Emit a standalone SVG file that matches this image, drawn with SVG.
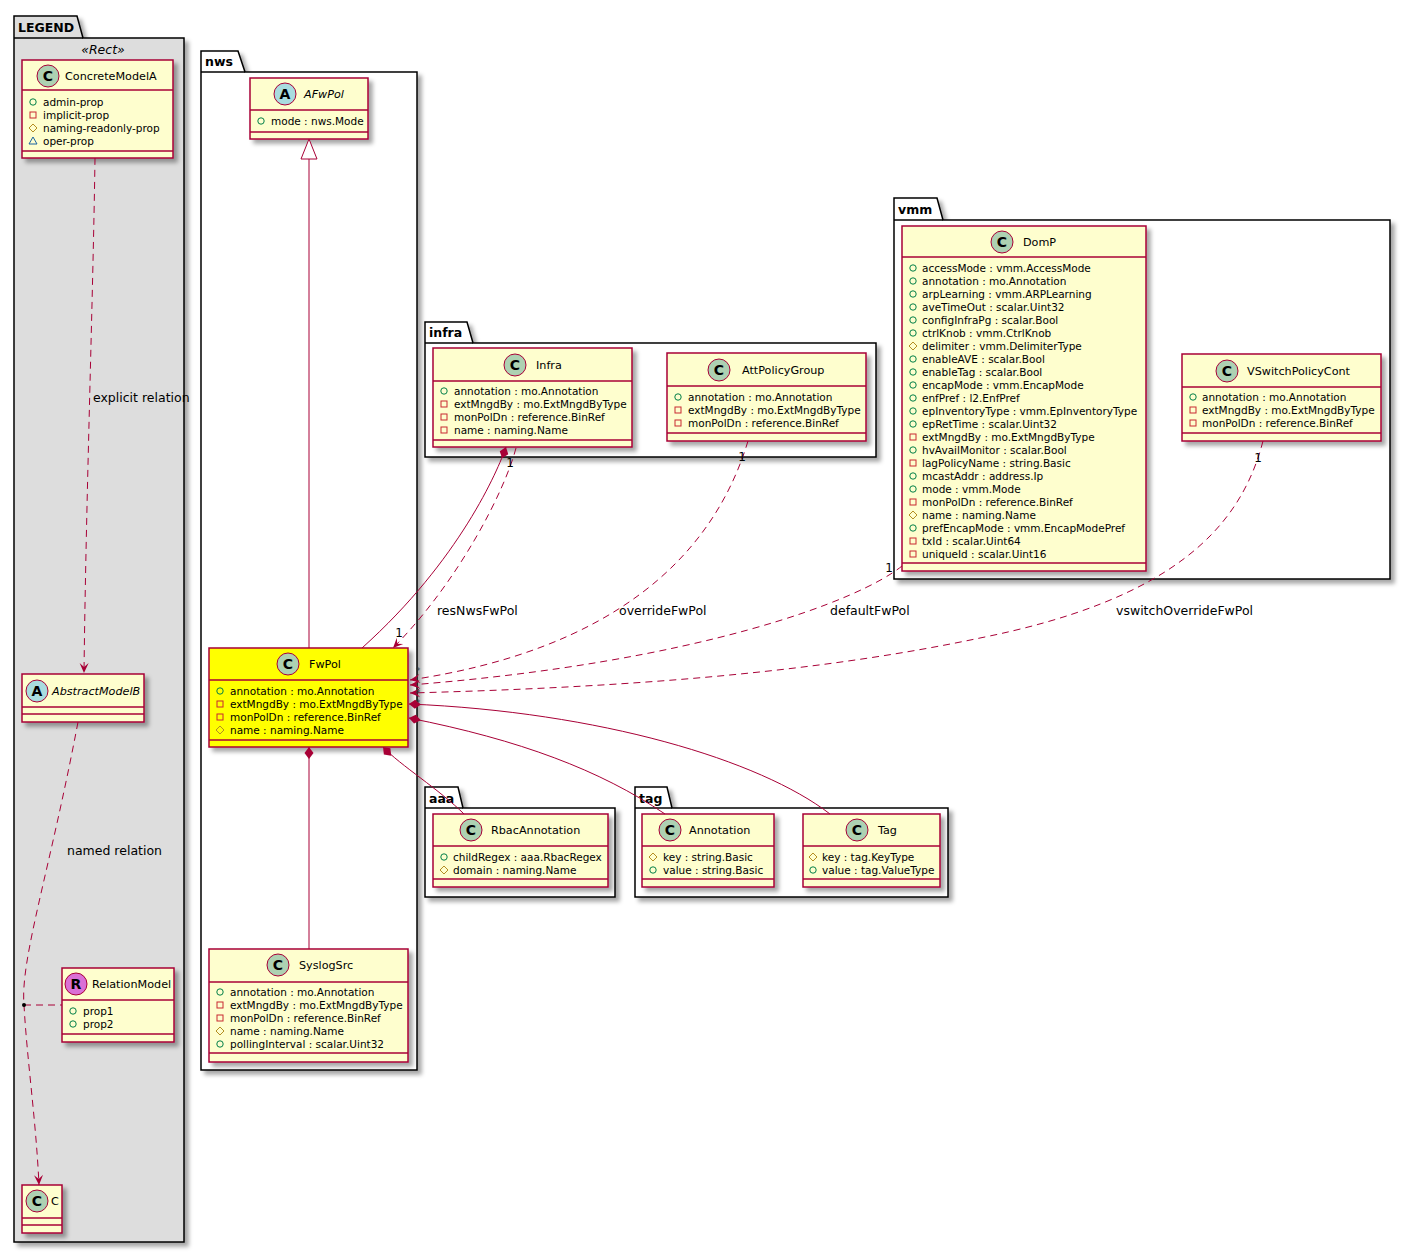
<svg xmlns="http://www.w3.org/2000/svg" width="1410" height="1252" viewBox="0 0 1410 1252">
<style>
.bg{fill:#FFFFFF}
.pkg{fill:#FFFFFF;stroke:#000;stroke-width:1.5}
.pkg.lg{fill:#DDDDDD}
.pl{stroke:#000;stroke-width:1.5}
.pt{font-family:"DejaVu Sans",sans-serif;font-weight:bold;font-size:12.5px;fill:#000}
.st{font-family:"DejaVu Sans",sans-serif;font-style:italic;font-size:12.5px;fill:#000;text-anchor:middle}
.box{fill:#FEFECE;stroke:#A80036;stroke-width:1.5}
.box.hl{fill:#FFFF00}
.dv{stroke:#A80036;stroke-width:1.5}
.nm{font-family:"DejaVu Sans",sans-serif;font-size:11.2px;fill:#000}
.nm.it{font-style:italic}
.at{font-family:"DejaVu Sans",sans-serif;font-size:10.5px;fill:#000}
.ic{font-family:"DejaVu Sans",sans-serif;font-weight:bold;font-size:14px;fill:#000;text-anchor:middle}
.pub{fill:none;stroke:#038048;stroke-width:1}
.priv{fill:none;stroke:#C82930;stroke-width:1}
.prot{fill:none;stroke:#B38D22;stroke-width:1}
.pkv{fill:none;stroke:#1963A0;stroke-width:1}
.ln{fill:none;stroke:#A80036;stroke-width:1}
.ln.d{stroke-dasharray:7,5}
.lb{font-family:"DejaVu Sans",sans-serif;font-size:12.5px;fill:#000}
.ml{font-family:"DejaVu Sans",sans-serif;font-size:12px;fill:#000;text-anchor:middle}
.sm{font-family:"DejaVu Sans",sans-serif;font-size:9px;fill:#333;text-anchor:middle}
</style>
<defs>
<filter id="sh" x="-20%" y="-20%" width="150%" height="150%">
<feDropShadow dx="4" dy="4" stdDeviation="2" flood-color="#000" flood-opacity="0.35"/>
</filter>
<marker id="arr" markerWidth="12" markerHeight="10" refX="10" refY="4.5" orient="auto" markerUnits="userSpaceOnUse" overflow="visible">
<path d="M0,0 L10,4.5 L0,9 L4,4.5 Z" fill="#A80036" stroke="none"/>
</marker>
<marker id="dia" markerWidth="14" markerHeight="10" refX="0" refY="4.5" orient="auto" markerUnits="userSpaceOnUse" overflow="visible">
<path d="M0,4.5 L6,0 L12,4.5 L6,9 Z" fill="#A80036" stroke="none"/>
</marker>
<g id="icC"><circle r="11" fill="#ADD1B2" stroke="#A80036" stroke-width="1"/><text y="5" class="ic">C</text></g>
<g id="icA"><circle r="11" fill="#A9DCDF" stroke="#A80036" stroke-width="1"/><text y="5" class="ic">A</text></g>
<g id="icR"><circle r="11" fill="#DA70D6" stroke="#A80036" stroke-width="1"/><text y="5" class="ic">R</text></g>
<circle id="vpub" r="3.2" class="pub"/>
<rect id="vpriv" x="-3" y="-3" width="6" height="6" class="priv"/>
<path id="vprot" d="M0,-4 L4,0 L0,4 L-4,0 Z" class="prot"/>
<path id="vpkg" d="M-4,3 L0,-4 L4,3 Z" class="pkv"/>
</defs>
<rect class="bg" x="0" y="0" width="1410" height="1252"/>

<!-- packages -->
<g id="pkg-LEGEND">
<path class="pkg lg" filter="url(#sh)" d="M14,38 L14,16 L77,16 L83,38 L184,38 L184,1242 L14,1242 Z"/>
<line class="pl" x1="14" y1="38" x2="83" y2="38"/>
<text class="pt" x="18" y="32">LEGEND</text>
<text class="st" x="103" y="54">«Rect»</text>
</g>
<g id="pkg-nws">
<path class="pkg" filter="url(#sh)" d="M201,72 L201,51 L238,51 L245,72 L417,72 L417,1070 L201,1070 Z"/>
<line class="pl" x1="201" y1="72" x2="245" y2="72"/>
<text class="pt" x="205" y="66">nws</text>
</g>
<g id="pkg-infra">
<path class="pkg" filter="url(#sh)" d="M425,343 L425,322 L467,322 L473,343 L876,343 L876,457 L425,457 Z"/>
<line class="pl" x1="425" y1="343" x2="473" y2="343"/>
<text class="pt" x="429" y="337">infra</text>
</g>
<g id="pkg-vmm">
<path class="pkg" filter="url(#sh)" d="M894,220 L894,198 L937,198 L943,220 L1390,220 L1390,579 L894,579 Z"/>
<line class="pl" x1="894" y1="220" x2="943" y2="220"/>
<text class="pt" x="898" y="214">vmm</text>
</g>
<g id="pkg-aaa">
<path class="pkg" filter="url(#sh)" d="M425,808 L425,787 L458,787 L463,808 L615,808 L615,897 L425,897 Z"/>
<line class="pl" x1="425" y1="808" x2="463" y2="808"/>
<text class="pt" x="429" y="803">aaa</text>
</g>
<g id="pkg-tag">
<path class="pkg" filter="url(#sh)" d="M635,808 L635,787 L667,787 L672,808 L948,808 L948,897 L635,897 Z"/>
<line class="pl" x1="635" y1="808" x2="672" y2="808"/>
<text class="pt" x="639" y="803">tag</text>
</g>

<!-- legend classes -->
<g id="ConcreteModelA">
<rect class="box" filter="url(#sh)" x="22" y="60" width="151" height="98"/>
<line class="dv" x1="22" y1="90" x2="173" y2="90"/>
<line class="dv" x1="22" y1="151" x2="173" y2="151"/>
<use href="#icC" x="48" y="76"/>
<text class="nm" x="65" y="80">ConcreteModelA</text>
<use href="#vpub" x="33" y="102"/><text class="at" x="43" y="106">admin-prop</text>
<use href="#vpriv" x="33" y="115"/><text class="at" x="43" y="119">implicit-prop</text>
<use href="#vprot" x="33" y="128"/><text class="at" x="43" y="132">naming-readonly-prop</text>
<use href="#vpkg" x="33" y="141"/><text class="at" x="43" y="145">oper-prop</text>
</g>
<g id="AbstractModelB">
<rect class="box" filter="url(#sh)" x="22" y="674" width="122" height="48"/>
<line class="dv" x1="22" y1="707" x2="144" y2="707"/>
<line class="dv" x1="22" y1="714" x2="144" y2="714"/>
<use href="#icA" x="37" y="691"/>
<text class="nm it" x="52" y="695">AbstractModelB</text>
</g>
<g id="RelationModel">
<rect class="box" filter="url(#sh)" x="62" y="968" width="112" height="74"/>
<line class="dv" x1="62" y1="1000" x2="174" y2="1000"/>
<line class="dv" x1="62" y1="1034" x2="174" y2="1034"/>
<use href="#icR" x="76" y="984"/>
<text class="nm" x="92" y="988">RelationModel</text>
<use href="#vpub" x="73" y="1011"/><text class="at" x="83" y="1015">prop1</text>
<use href="#vpub" x="73" y="1024"/><text class="at" x="83" y="1028">prop2</text>
</g>
<g id="C">
<rect class="box" filter="url(#sh)" x="22" y="1185" width="40" height="48"/>
<line class="dv" x1="22" y1="1218" x2="62" y2="1218"/>
<line class="dv" x1="22" y1="1225" x2="62" y2="1225"/>
<use href="#icC" x="37" y="1201"/>
<text class="nm" x="51" y="1205">C</text>
</g>

<!-- nws classes -->
<g id="AFwPol">
<rect class="box" filter="url(#sh)" x="250" y="78" width="118" height="61"/>
<line class="dv" x1="250" y1="110" x2="368" y2="110"/>
<line class="dv" x1="250" y1="132" x2="368" y2="132"/>
<use href="#icA" x="285" y="94"/>
<text class="nm it" x="304" y="98">AFwPol</text>
<use href="#vpub" x="261" y="121"/><text class="at" x="271" y="125">mode : nws.Mode</text>
</g>
<g id="FwPol">
<rect class="box hl" filter="url(#sh)" x="209" y="648" width="199" height="99"/>
<line class="dv" x1="209" y1="680" x2="408" y2="680"/>
<line class="dv" x1="209" y1="740" x2="408" y2="740"/>
<use href="#icC" x="288" y="664"/>
<text class="nm" x="309" y="668">FwPol</text>
<use href="#vpub" x="220" y="691"/><text class="at" x="230" y="695">annotation : mo.Annotation</text>
<use href="#vpriv" x="220" y="704"/><text class="at" x="230" y="708">extMngdBy : mo.ExtMngdByType</text>
<use href="#vpriv" x="220" y="717"/><text class="at" x="230" y="721">monPolDn : reference.BinRef</text>
<use href="#vprot" x="220" y="730"/><text class="at" x="230" y="734">name : naming.Name</text>
</g>
<g id="SyslogSrc">
<rect class="box" filter="url(#sh)" x="209" y="949" width="199" height="113"/>
<line class="dv" x1="209" y1="982" x2="408" y2="982"/>
<line class="dv" x1="209" y1="1053" x2="408" y2="1053"/>
<use href="#icC" x="278" y="965"/>
<text class="nm" x="299" y="969">SyslogSrc</text>
<use href="#vpub" x="220" y="992"/><text class="at" x="230" y="996">annotation : mo.Annotation</text>
<use href="#vpriv" x="220" y="1005"/><text class="at" x="230" y="1009">extMngdBy : mo.ExtMngdByType</text>
<use href="#vpriv" x="220" y="1018"/><text class="at" x="230" y="1022">monPolDn : reference.BinRef</text>
<use href="#vprot" x="220" y="1031"/><text class="at" x="230" y="1035">name : naming.Name</text>
<use href="#vpub" x="220" y="1044"/><text class="at" x="230" y="1048">pollingInterval : scalar.Uint32</text>
</g>

<!-- infra classes -->
<g id="Infra">
<rect class="box" filter="url(#sh)" x="433" y="348" width="199" height="99"/>
<line class="dv" x1="433" y1="381" x2="632" y2="381"/>
<line class="dv" x1="433" y1="440" x2="632" y2="440"/>
<use href="#icC" x="515" y="365"/>
<text class="nm" x="536" y="369">Infra</text>
<use href="#vpub" x="444" y="391"/><text class="at" x="454" y="395">annotation : mo.Annotation</text>
<use href="#vpriv" x="444" y="404"/><text class="at" x="454" y="408">extMngdBy : mo.ExtMngdByType</text>
<use href="#vpriv" x="444" y="417"/><text class="at" x="454" y="421">monPolDn : reference.BinRef</text>
<use href="#vpriv" x="444" y="430"/><text class="at" x="454" y="434">name : naming.Name</text>
</g>
<g id="AttPolicyGroup">
<rect class="box" filter="url(#sh)" x="667" y="353" width="199" height="88"/>
<line class="dv" x1="667" y1="386" x2="866" y2="386"/>
<line class="dv" x1="667" y1="433" x2="866" y2="433"/>
<use href="#icC" x="719" y="370"/>
<text class="nm" x="742" y="374">AttPolicyGroup</text>
<use href="#vpub" x="678" y="397"/><text class="at" x="688" y="401">annotation : mo.Annotation</text>
<use href="#vpriv" x="678" y="410"/><text class="at" x="688" y="414">extMngdBy : mo.ExtMngdByType</text>
<use href="#vpriv" x="678" y="423"/><text class="at" x="688" y="427">monPolDn : reference.BinRef</text>
</g>

<!-- vmm classes -->
<g id="DomP">
<rect class="box" filter="url(#sh)" x="902" y="226" width="244" height="345"/>
<line class="dv" x1="902" y1="257" x2="1146" y2="257"/>
<line class="dv" x1="902" y1="563" x2="1146" y2="563"/>
<use href="#icC" x="1002" y="242"/>
<text class="nm" x="1023" y="246">DomP</text>
<use href="#vpub" x="913" y="268"/><text class="at" x="922" y="272">accessMode : vmm.AccessMode</text>
<use href="#vpub" x="913" y="281"/><text class="at" x="922" y="285">annotation : mo.Annotation</text>
<use href="#vpub" x="913" y="294"/><text class="at" x="922" y="298">arpLearning : vmm.ARPLearning</text>
<use href="#vpub" x="913" y="307"/><text class="at" x="922" y="311">aveTimeOut : scalar.Uint32</text>
<use href="#vpub" x="913" y="320"/><text class="at" x="922" y="324">configInfraPg : scalar.Bool</text>
<use href="#vpub" x="913" y="333"/><text class="at" x="922" y="337">ctrlKnob : vmm.CtrlKnob</text>
<use href="#vprot" x="913" y="346"/><text class="at" x="922" y="350">delimiter : vmm.DelimiterType</text>
<use href="#vpub" x="913" y="359"/><text class="at" x="922" y="363">enableAVE : scalar.Bool</text>
<use href="#vpub" x="913" y="372"/><text class="at" x="922" y="376">enableTag : scalar.Bool</text>
<use href="#vpub" x="913" y="385"/><text class="at" x="922" y="389">encapMode : vmm.EncapMode</text>
<use href="#vpub" x="913" y="398"/><text class="at" x="922" y="402">enfPref : l2.EnfPref</text>
<use href="#vpub" x="913" y="411"/><text class="at" x="922" y="415">epInventoryType : vmm.EpInventoryType</text>
<use href="#vpub" x="913" y="424"/><text class="at" x="922" y="428">epRetTime : scalar.Uint32</text>
<use href="#vpriv" x="913" y="437"/><text class="at" x="922" y="441">extMngdBy : mo.ExtMngdByType</text>
<use href="#vpub" x="913" y="450"/><text class="at" x="922" y="454">hvAvailMonitor : scalar.Bool</text>
<use href="#vpriv" x="913" y="463"/><text class="at" x="922" y="467">lagPolicyName : string.Basic</text>
<use href="#vpub" x="913" y="476"/><text class="at" x="922" y="480">mcastAddr : address.Ip</text>
<use href="#vpub" x="913" y="489"/><text class="at" x="922" y="493">mode : vmm.Mode</text>
<use href="#vpriv" x="913" y="502"/><text class="at" x="922" y="506">monPolDn : reference.BinRef</text>
<use href="#vprot" x="913" y="515"/><text class="at" x="922" y="519">name : naming.Name</text>
<use href="#vpub" x="913" y="528"/><text class="at" x="922" y="532">prefEncapMode : vmm.EncapModePref</text>
<use href="#vpriv" x="913" y="541"/><text class="at" x="922" y="545">txId : scalar.Uint64</text>
<use href="#vpriv" x="913" y="554"/><text class="at" x="922" y="558">uniqueId : scalar.Uint16</text>
</g>
<g id="VSwitchPolicyCont">
<rect class="box" filter="url(#sh)" x="1182" y="354" width="199" height="87"/>
<line class="dv" x1="1182" y1="387" x2="1381" y2="387"/>
<line class="dv" x1="1182" y1="433" x2="1381" y2="433"/>
<use href="#icC" x="1227" y="371"/>
<text class="nm" x="1247" y="375">VSwitchPolicyCont</text>
<use href="#vpub" x="1193" y="397"/><text class="at" x="1202" y="401">annotation : mo.Annotation</text>
<use href="#vpriv" x="1193" y="410"/><text class="at" x="1202" y="414">extMngdBy : mo.ExtMngdByType</text>
<use href="#vpriv" x="1193" y="423"/><text class="at" x="1202" y="427">monPolDn : reference.BinRef</text>
</g>

<!-- aaa / tag classes -->
<g id="RbacAnnotation">
<rect class="box" filter="url(#sh)" x="433" y="814" width="175" height="73"/>
<line class="dv" x1="433" y1="846" x2="608" y2="846"/>
<line class="dv" x1="433" y1="879" x2="608" y2="879"/>
<use href="#icC" x="471" y="830"/>
<text class="nm" x="491" y="834">RbacAnnotation</text>
<use href="#vpub" x="444" y="857"/><text class="at" x="453" y="861">childRegex : aaa.RbacRegex</text>
<use href="#vprot" x="444" y="870"/><text class="at" x="453" y="874">domain : naming.Name</text>
</g>
<g id="Annotation">
<rect class="box" filter="url(#sh)" x="642" y="814" width="132" height="73"/>
<line class="dv" x1="642" y1="846" x2="774" y2="846"/>
<line class="dv" x1="642" y1="879" x2="774" y2="879"/>
<use href="#icC" x="670" y="830"/>
<text class="nm" x="689" y="834">Annotation</text>
<use href="#vprot" x="653" y="857"/><text class="at" x="663" y="861">key : string.Basic</text>
<use href="#vpub" x="653" y="870"/><text class="at" x="663" y="874">value : string.Basic</text>
</g>
<g id="Tag">
<rect class="box" filter="url(#sh)" x="803" y="814" width="137" height="73"/>
<line class="dv" x1="803" y1="846" x2="940" y2="846"/>
<line class="dv" x1="803" y1="879" x2="940" y2="879"/>
<use href="#icC" x="857" y="830"/>
<text class="nm" x="878" y="834">Tag</text>
<use href="#vprot" x="813" y="857"/><text class="at" x="822" y="861">key : tag.KeyType</text>
<use href="#vpub" x="813" y="870"/><text class="at" x="822" y="874">value : tag.ValueType</text>
</g>

<!-- connectors -->
<g id="connectors">
<!-- legend -->
<path class="ln d" marker-end="url(#arr)" d="M95,158 C93,300 86,500 84,673"/>
<text class="lb" x="93" y="402">explicit relation</text>
<path class="ln d" marker-end="url(#arr)" d="M78,722 C50,870 20,960 24,1005 C27,1060 36,1120 39,1185"/>
<text class="lb" x="67" y="855">named relation</text>
<path class="ln d" d="M24,1005 L62,1005"/>
<circle cx="24" cy="1005" r="2" fill="#000"/>

<!-- generalization FwPol -> AFwPol -->
<path class="ln" d="M309,648 L309,159"/>
<polygon points="309,139 301,159 317,159" fill="#FFFFFF" stroke="#A80036" stroke-width="1"/>

<!-- compositions -->
<path class="ln" marker-start="url(#dia)" d="M309,747 L309,949"/>
<path class="ln" marker-start="url(#dia)" d="M383,747 C400,765 440,790 464,814"/>
<path class="ln" marker-start="url(#dia)" d="M409,718 C520,740 600,770 665,814"/>
<path class="ln" marker-start="url(#dia)" d="M409,704 C600,712 760,760 830,814"/>
<path class="ln" marker-start="url(#dia)" d="M506,447 C498,470 460,560 362,648"/>

<!-- references -->
<path class="ln d" marker-end="url(#arr)" d="M516,448 C505,490 460,580 393,648"/>
<text class="ml" x="510" y="467">1</text>
<text class="ml" x="399" y="637">1</text>
<text class="lb" x="437" y="615">resNwsFwPol</text>

<path class="ln d" marker-end="url(#arr)" d="M748,441 C712,560 610,650 410,680"/>
<text class="ml" x="742" y="461">1</text>
<text class="lb" x="619" y="615">overrideFwPol</text>

<path class="ln d" marker-end="url(#arr)" d="M902,566 C860,600 700,662 410,685"/>
<text class="ml" x="889" y="572">1</text>
<text class="lb" x="830" y="615">defaultFwPol</text>

<path class="ln d" marker-end="url(#arr)" d="M1263,441 C1240,530 1170,600 980,638 C800,676 600,688 410,693"/>
<text class="ml" x="1258" y="462">1</text>
<text class="lb" x="1116" y="615">vswitchOverrideFwPol</text>

<text class="sm" x="418" y="674">*</text>
<text class="sm" x="418" y="696">*</text>
<text class="sm" x="418" y="706">*</text>
</g>
</svg>
